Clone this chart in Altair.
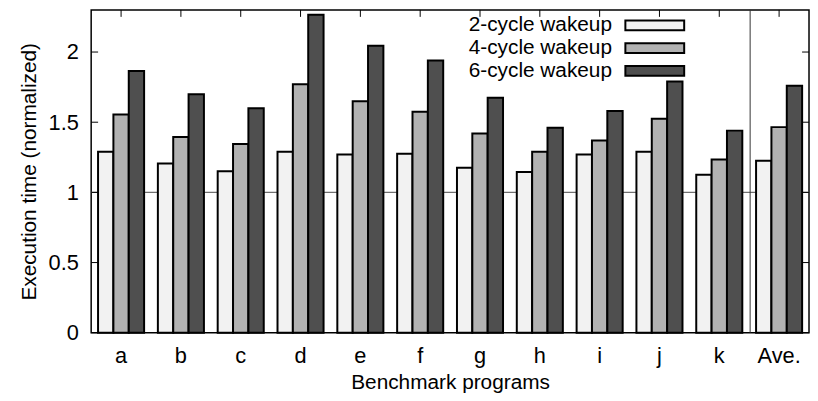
import altair as alt
import pandas as pd

categories = ["a", "b", "c", "d", "e", "f", "g", "h", "i", "j", "k", "Ave."]
series = ["2-cycle wakeup", "4-cycle wakeup", "6-cycle wakeup"]
wake2 = [1.29, 1.205, 1.15, 1.29, 1.27, 1.275, 1.175, 1.145, 1.27, 1.29, 1.125, 1.225]
wake4 = [1.555, 1.395, 1.345, 1.77, 1.65, 1.575, 1.42, 1.29, 1.37, 1.525, 1.235, 1.465]
wake6 = [1.865, 1.70, 1.60, 2.265, 2.045, 1.94, 1.675, 1.46, 1.58, 1.79, 1.44, 1.76]
y_ticks = [0, 0.5, 1, 1.5, 2]
reference_level = [1]
separator_before = ["Ave."]
colors = ["#f2f2f2", "#b2b2b2", "#4f4f4f"]

rows = []
for s, vals in zip(series, [wake2, wake4, wake6]):
    for c, v in zip(categories, vals):
        rows.append({"Category": c, "Series": s, "Value": v})
df = pd.DataFrame(rows)

W, H = 725, 326
FONT = "Liberation Sans"

xscale = alt.Scale(
    domain=categories, range=[0, W], paddingInner=0.23, paddingOuter=0.115, round=False
)
yscale = alt.Scale(domain=[0, 2.3], nice=False, zero=True)

x_axis = alt.Axis(
    title="Benchmark programs",
    labelAngle=0,
    ticks=False,
    domain=False,
    labelPadding=13,
    titlePadding=5,
)
y_axis = alt.Axis(
    title="Execution time (normalized)",
    values=y_ticks,
    format="~g",
    ticks=False,
    domain=False,
    grid=False,
    labelPadding=13,
    titlePadding=9,
)

ref = alt.Chart(pd.DataFrame({"Value": reference_level})).mark_rule(
    color="#707070", strokeWidth=1.5
).encode(y=alt.Y("Value:Q", scale=yscale, axis=y_axis))

sep = alt.Chart(pd.DataFrame({"Category": separator_before})).mark_rule(
    color="#333333", strokeWidth=1, xOffset=-6
).encode(
    x=alt.X("Category:N", scale=xscale, axis=x_axis, bandPosition=0),
    y=alt.value(0),
    y2=alt.value(H),
)

bars = alt.Chart(df).mark_bar(stroke="black", strokeWidth=2).encode(
    x=alt.X("Category:N", scale=xscale, axis=x_axis),
    xOffset=alt.XOffset("Series:N", scale=alt.Scale(domain=series, paddingInner=0, paddingOuter=0)),
    y=alt.Y("Value:Q", scale=yscale, axis=y_axis),
    fill=alt.Fill(
        "Series:N",
        scale=alt.Scale(domain=series, range=colors),
        legend=alt.Legend(
            title=None,
            orient="none",
            legendX=505,
            legendY=5,
            symbolType="M2.67,-0.55H9.27V0.55H2.67Z",
            symbolSize=324,
            symbolStrokeColor="black",
            symbolStrokeWidth=2,
            labelAlign="right",
            labelBaseline="middle",
            labelOffset=0,
            labelFontSize=21,
            labelFont=FONT,
            labelColor="black",
            rowPadding=1,
            padding=0,
        ),
    ),
)

tick_df = pd.DataFrame({"Value": y_ticks})
left_ticks = alt.Chart(tick_df).mark_rule(color="black", strokeWidth=1).encode(
    y=alt.Y("Value:Q", scale=yscale, axis=y_axis), x=alt.value(0), x2=alt.value(7)
)
right_ticks = alt.Chart(tick_df).mark_rule(color="black", strokeWidth=1).encode(
    y=alt.Y("Value:Q", scale=yscale, axis=y_axis), x=alt.value(W - 7), x2=alt.value(W)
)
top_ticks = alt.Chart(pd.DataFrame({"Category": categories})).mark_rule(
    color="black", strokeWidth=1
).encode(
    x=alt.X("Category:N", scale=xscale, axis=x_axis, bandPosition=0.5),
    y=alt.value(0),
    y2=alt.value(7),
)

chart = (
    alt.layer(ref, sep, bars, left_ticks, right_ticks, top_ticks)
    .properties(
        width=W,
        height=H,
        padding={"left": 84, "top": 0, "right": 1, "bottom": 67},
        autosize="none",
        background="white",
    )
    .configure_view(stroke="black", strokeWidth=1.5)
    .configure_axis(
        labelFont=FONT,
        titleFont=FONT,
        labelFontSize=22,
        titleFontSize=21,
        labelColor="black",
        titleColor="black",
        titleFontWeight="normal",
    )
)

chart.save("out.html", embed_options={"renderer": "svg", "actions": False})
